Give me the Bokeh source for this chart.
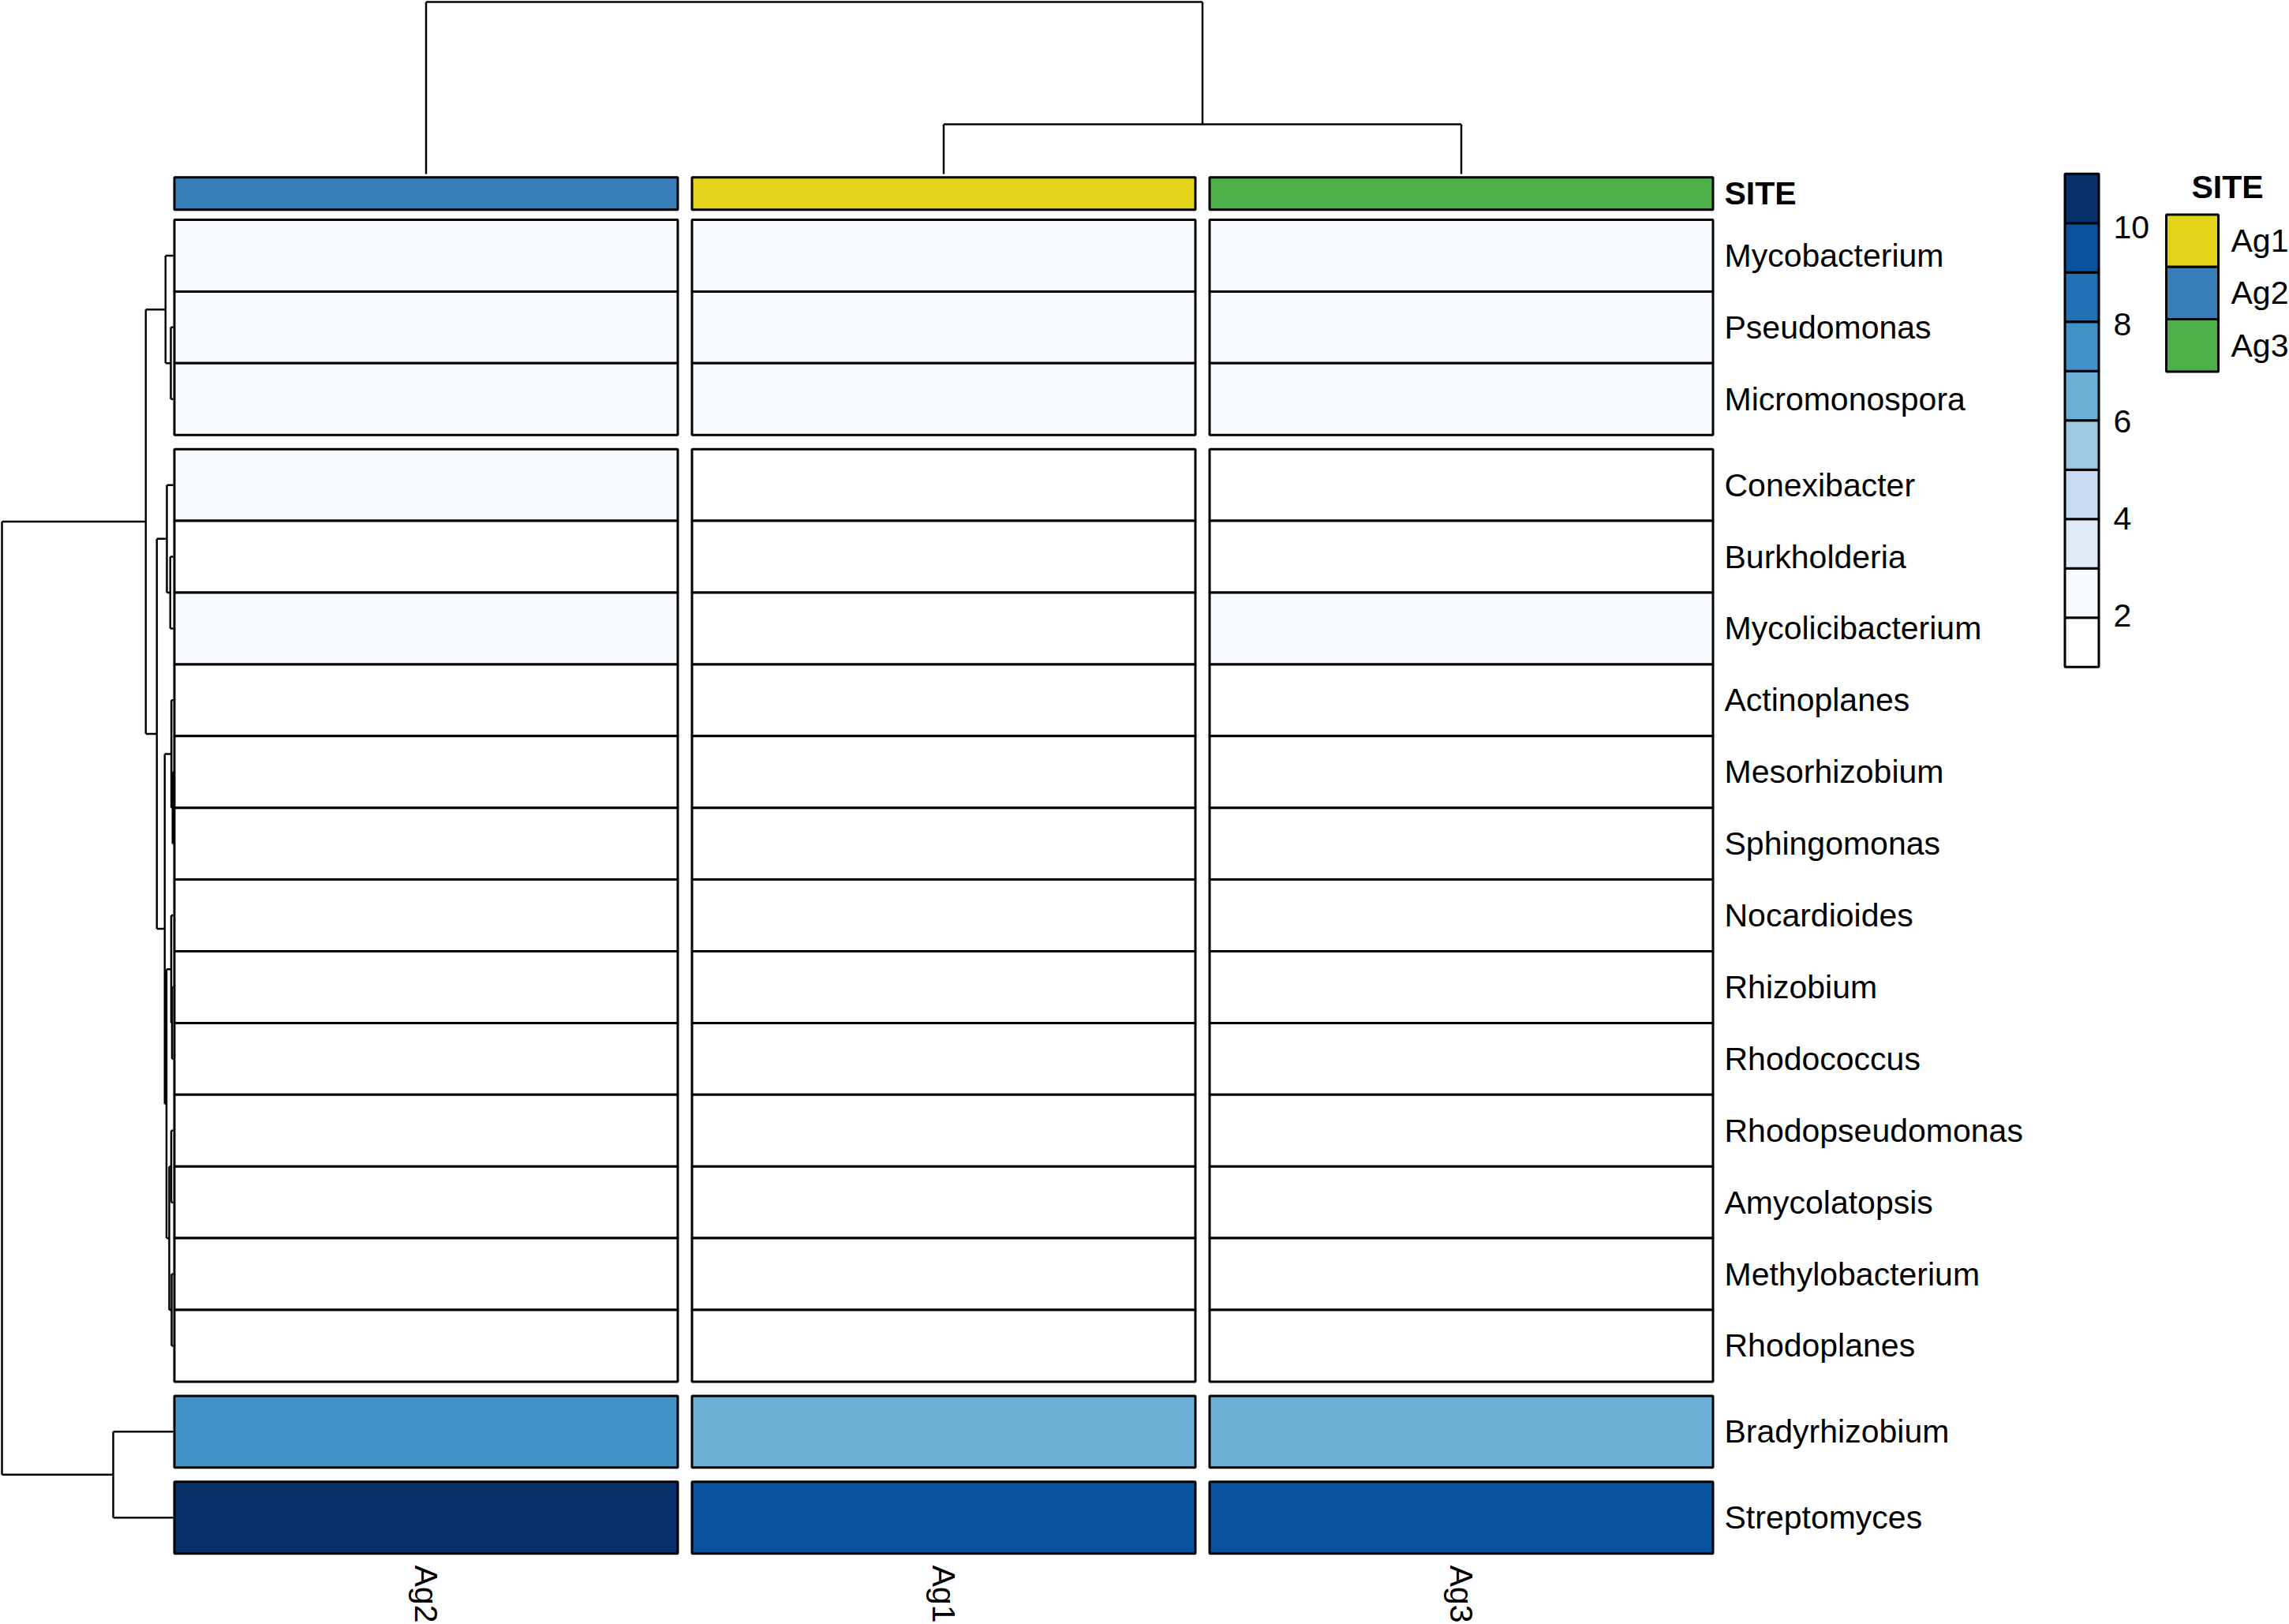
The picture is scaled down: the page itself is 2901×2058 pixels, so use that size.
import numpy as np
from bokeh.plotting import figure
from bokeh.models import Range1d, ColumnDataSource, LinearColorMapper
from bokeh.transform import transform
from bokeh.core.properties import value
from bokeh.embed import file_html
from bokeh.resources import INLINE

# ---------------- data ----------------
genera = ["Mycobacterium", "Pseudomonas", "Micromonospora", "Conexibacter",
          "Burkholderia", "Mycolicibacterium", "Actinoplanes", "Mesorhizobium",
          "Sphingomonas", "Nocardioides", "Rhizobium", "Rhodococcus",
          "Rhodopseudomonas", "Amycolatopsis", "Methylobacterium", "Rhodoplanes",
          "Bradyrhizobium", "Streptomyces"]
row_groups = [0, 0, 0, 1, 1, 1, 1, 1, 1, 1, 1, 1, 1, 1, 1, 1, 2, 3]
sites = ["Ag2", "Ag1", "Ag3"]
abund_ag2 = [2.6, 2.5, 2.4, 2.1, 1.9, 2.2, 1.8, 1.7, 1.6, 1.7, 1.6, 1.5, 1.4, 1.5, 1.4, 1.3, 7.5, 10.5]
abund_ag1 = [2.5, 2.4, 2.3, 1.9, 1.8, 1.9, 1.7, 1.6, 1.5, 1.6, 1.5, 1.5, 1.4, 1.4, 1.3, 1.3, 6.6, 9.6]
abund_ag3 = [2.6, 2.4, 2.3, 1.8, 1.9, 2.1, 1.7, 1.6, 1.6, 1.6, 1.5, 1.4, 1.4, 1.4, 1.3, 1.3, 6.7, 9.5]
legend_sites = ["Ag1", "Ag2", "Ag3"]
site_colors = ["#E3D41A", "#377EB8", "#4DAF4A"]
palette = ["#FFFFFF", "#F7FBFF", "#DEEBF7", "#C6DBEF", "#9ECAE1",
           "#6BAED6", "#4292C6", "#2171B5", "#08519C", "#08306B"]
scale_low, scale_high = 1, 11
legend_ticks = [2, 4, 6, 8, 10]
# linkage (a, b, height); ids >= n refer to earlier merges
row_linkage = [(7, 8, 0.07), (10, 11, 0.15), (14, 15, 0.2), (6, 18, 0.23),
               (9, 19, 0.25), (12, 13, 0.25), (1, 2, 0.3), (4, 5, 0.37),
               (23, 20, 0.5), (3, 25, 0.8), (22, 26, 0.85), (0, 24, 0.97),
               (21, 28, 1.07), (27, 30, 2.07), (29, 31, 3.47), (16, 17, 7.6),
               (32, 33, 21.7)]
col_linkage = [(1, 2, 6.3), (0, 3, 21.8)]

# ---------------- layout ----------------
W, H = 2901, 2058
FONT = value("Liberation Sans")
FS = "41px"
COL_X0, COL_PITCH, CELL_W = 539.5, 656.0, 638.0
ROW_Y0, ROW_H, GROUP_GAP = 278.0, 90.9, 18.0
ANNO_Y, ANNO_H = 244.7, 41.0
ROW_LEAF_X, ROW_DSCALE = 219.0, 10.0
COL_LEAF_Y, COL_DSCALE = 220.0, 10.0
LABEL_X = 2185.0
CB_X, CB_W, CB_TOP, CB_BLOCK = 2638.0, 43.0, 219.8, 62.5
TICK_X, TICK_Y10, TICK_STEP = 2678.0, 287.0, 61.5
LEG_X, LEG_W, LEG_TOP, LEG_H = 2778.0, 66.0, 271.5, 66.3

col_x = [COL_X0 + i * COL_PITCH for i in range(len(sites))]
row_y = [ROW_Y0 + i * ROW_H + g * GROUP_GAP + ROW_H / 2 for i, g in enumerate(row_groups)]

p = figure(width=W, height=H, x_range=Range1d(0, W), y_range=Range1d(H, 0),
           output_backend="svg", toolbar_location=None, min_border=0,
           x_axis_location=None, y_axis_location=None, outline_line_color=None,
           background_fill_color="white", border_fill_color="white")
p.xgrid.visible = False
p.ygrid.visible = False

mapper = LinearColorMapper(palette=palette, low=scale_low, high=scale_high)

# heatmap
xs, ys, vs = [], [], []
for j, vals in enumerate([abund_ag2, abund_ag1, abund_ag3]):
    for i, v in enumerate(vals):
        xs.append(col_x[j]); ys.append(row_y[i]); vs.append(v)
hm = ColumnDataSource(dict(x=xs, y=ys, v=vs))
p.rect("x", "y", width=CELL_W, height=ROW_H, source=hm,
       fill_color=transform("v", mapper), line_color="black", line_width=3)

# annotation bar
site_col_map = dict(zip(legend_sites, site_colors))
p.rect(col_x, [ANNO_Y] * 3, width=CELL_W, height=ANNO_H,
       fill_color=[site_col_map[s] for s in sites], line_color="black", line_width=3)
p.text([LABEL_X], [ANNO_Y], text=["SITE"], text_font=FONT, text_font_size=FS,
       text_font_style="bold", text_baseline="middle", text_align="left", text_color="black")

# row labels
p.text([LABEL_X] * len(genera), row_y, text=genera, text_font=FONT, text_font_size=FS,
       text_baseline="middle", text_align="left", text_color="black")

# column labels
p.text(col_x, [1983] * 3, text=sites, angle=-np.pi / 2, text_font=FONT, text_font_size=FS,
       text_baseline="middle", text_align="left", text_color="black")


def dendro_segments(linkage, leaf_pos, n):
    pos = list(leaf_pos)
    hgt = [0.0] * n
    segs = []
    for a, b, h in linkage:
        segs.append((pos[a], hgt[a], pos[a], h))
        segs.append((pos[b], hgt[b], pos[b], h))
        segs.append((pos[a], h, pos[b], h))
        pos.append((pos[a] + pos[b]) / 2)
        hgt.append(h)
    return segs

# row dendrogram (left)
rs = dendro_segments(row_linkage, row_y, len(genera))
p.segment(x0=[ROW_LEAF_X - s[1] * ROW_DSCALE for s in rs], y0=[s[0] for s in rs],
          x1=[ROW_LEAF_X - s[3] * ROW_DSCALE for s in rs], y1=[s[2] for s in rs],
          line_color="black", line_width=2.5)

# column dendrogram (top)
cs = dendro_segments(col_linkage, col_x, len(sites))
p.segment(x0=[s[0] for s in cs], y0=[COL_LEAF_Y - s[1] * COL_DSCALE for s in cs],
          x1=[s[2] for s in cs], y1=[COL_LEAF_Y - s[3] * COL_DSCALE for s in cs],
          line_color="black", line_width=2.5)

# colour key
levels = [scale_low + k + 0.5 for k in range(scale_high - scale_low)]
cb = ColumnDataSource(dict(y=[CB_TOP + (scale_high - v) * CB_BLOCK for v in levels],
                           v=levels))
p.rect(x=CB_X, y="y", width=CB_W, height=CB_BLOCK, source=cb,
       fill_color=transform("v", mapper), line_color="black", line_width=3)
p.text([TICK_X] * len(legend_ticks), [TICK_Y10 + (10 - t) * TICK_STEP for t in legend_ticks],
       text=[str(t) for t in legend_ticks], text_font=FONT, text_font_size=FS,
       text_baseline="middle", text_align="left", text_color="black")

# site legend
leg_y = [LEG_TOP + (k + 0.5) * LEG_H for k in range(len(legend_sites))]
p.rect([LEG_X] * 3, leg_y, width=LEG_W, height=LEG_H, fill_color=site_colors,
       line_color="black", line_width=3)
p.text([LEG_X + 49] * 3, leg_y, text=legend_sites, text_font=FONT, text_font_size=FS,
       text_baseline="middle", text_align="left", text_color="black")
p.text([2777], [236], text=["SITE"], text_font=FONT, text_font_size=FS,
       text_font_style="bold", text_baseline="middle", text_align="left", text_color="black")

open("out.html", "w").write(file_html(p, INLINE))
